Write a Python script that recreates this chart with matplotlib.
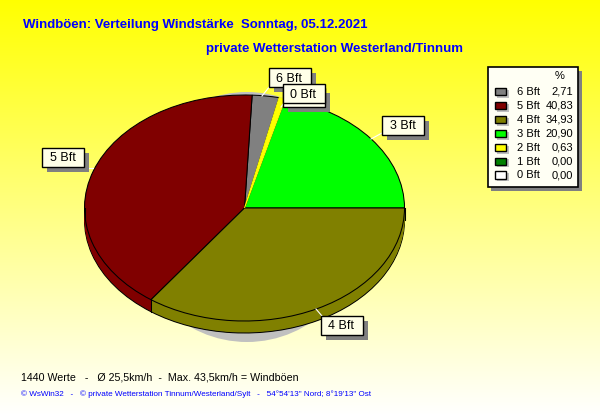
import numpy as np
import matplotlib
matplotlib.use('Agg')
import matplotlib.pyplot as plt
from matplotlib.patches import Rectangle, Ellipse
from matplotlib.transforms import Affine2D

plt.rcParams['font.family'] = ['Liberation Sans', 'DejaVu Sans']

# pie order, counter clockwise from 3 o'clock
pie_labels = ['3 Bft', '2 Bft', '6 Bft', '5 Bft', '4 Bft']
pie_values = [20.90, 0.63, 2.71, 40.83, 34.93]
pie_colors = ['#00ff00', '#ffff00', '#808080', '#800000', '#808000']

# legend
legend_labels = ['6 Bft', '5 Bft', '4 Bft', '3 Bft', '2 Bft', '1 Bft', '0 Bft']
legend_values = ['2,71', '40,83', '34,93', '20,90', '0,63', '0,00', '0,00']
legend_colors = ['#808080', '#800000', '#808000', '#00ff00', '#ffff00', '#008000', '#ffffff']

title = 'Windböen: Verteilung Windstärke  Sonntag, 05.12.2021'
subtitle = 'private Wetterstation Westerland/Tinnum'
stats = '1440 Werte   -   Ø 25,5km/h  -  Max. 43,5km/h = Windböen'
footer = ("© WsWin32   -   © private Wetterstation Tinnum/Westerland/Sylt   -   "
          "54°54'13\" Nord; 8°19'13\" Ost")

CX, CY, RX, RY, DEPTH = 244.5, 208, 160, 113, 12
CREAM = '#ffffe8'
SHADOW = '#808080'

fig = plt.figure(figsize=(6, 4.15), dpi=100)
ax = fig.add_axes([0, 0, 1, 1])


def draw_pie(dy, edge):
    # ellipse is a normal pie squashed with a transform
    wedges, _ = ax.pie(pie_values, colors=pie_colors, radius=RX, startangle=0,
                       counterclock=True, frame=True,
                       wedgeprops=dict(edgecolor=edge, linewidth=0.75 if edge != 'none' else 0))
    tr = Affine2D().scale(1, -RY / RX).translate(CX, CY + dy) + ax.transData
    for w in wedges:
        w.set_transform(tr)
        w.set_zorder(3)
    return wedges


# gradient background
grad = np.zeros((415, 1, 3))
grad[:, 0, 0] = 1
grad[:, 0, 1] = 1
grad[:, 0, 2] = np.linspace(0, 1, 415)
ax.imshow(grad, extent=(0, 600, 415, 0), aspect='auto', zorder=0)

# pie shadow
ax.add_patch(Ellipse((247, 217), 238, 250, fc='#c0c0c0', ec='none', zorder=1))

# rim, then top
draw_pie(DEPTH, 'black')
for d in range(DEPTH - 1, 0, -1):
    draw_pie(d, 'none')
top = draw_pie(0, 'black')
# the thin yellow slice would vanish under its black outline
top[1].set_edgecolor('#ffff00')
top[1].set_zorder(3.5)

ax.set_aspect('auto')
ax.set_xlim(0, 600)
ax.set_ylim(415, 0)
ax.axis('off')

# rim seams on the front side
edges = np.cumsum([0] + pie_values) / 100 * 2 * np.pi
for a in edges:
    if np.sin(a) <= 1e-6:
        x = CX + RX * np.cos(a)
        y = CY - RY * np.sin(a)
        ax.plot([x, x], [y, y + DEPTH], color='black', lw=0.75, zorder=4)
ax.plot([CX - RX, CX - RX], [CY, CY + DEPTH], color='black', lw=0.75, zorder=4)


def label_box(x0, y0, x1, y1, text=None, shadow=True):
    if shadow:
        ax.add_patch(Rectangle((x0 + 5, y0 + 5), x1 - x0, y1 - y0, fc=SHADOW, ec='none', zorder=6))
    ax.add_patch(Rectangle((x0, y0), x1 - x0, y1 - y0, fc=CREAM, ec='black', lw=1.0, zorder=7))
    if text:
        ax.text((x0 + x1) / 2, (y0 + y1) / 2 + 0.5, text, ha='center', va='center',
                fontsize=9, color='black', zorder=8)


# leader lines
leaders = [((262, 96), (270, 86)), ((281, 107), (284, 103)), ((371, 139), (382, 133)),
           ((84, 168), (93, 168)), ((316, 309), (322, 316))]
for p, q in leaders:
    ax.plot([p[0], q[0]], [p[1], q[1]], color='white', lw=0.8, zorder=5)

label_box(268.5, 68.5, 310.5, 87.5, '6 Bft')
# 2 Bft and 1 Bft boxes sit behind the 0 Bft one, their text is covered
label_box(282.5, 88.5, 324.5, 107.5)
label_box(282.5, 84.5, 324.5, 103.5, '0 Bft', shadow=False)
label_box(381.5, 115.5, 423.5, 134.5, '3 Bft')
label_box(41.5, 147.5, 83.5, 166.5, '5 Bft')
label_box(320.5, 315.5, 362.5, 334.5, '4 Bft')

# legend box
ax.add_patch(Rectangle((491, 71), 91, 120, fc=SHADOW, ec='none', zorder=6))
ax.add_patch(Rectangle((487.5, 67.5), 90, 120, fc='#fffff4', ec='black', lw=1.2, zorder=7))
ax.text(560, 76, '%', ha='center', va='center', fontsize=8, zorder=8)
for i, (lab, val, col) in enumerate(zip(legend_labels, legend_values, legend_colors)):
    y = 92 + i * 13.9
    ax.add_patch(Rectangle((497, y - 2), 12, 8, fc='#c0c0c0', ec='none', zorder=7.5))
    ax.add_patch(Rectangle((494.5, y - 4), 11, 7.5, fc=col, ec='black', lw=1.0, zorder=8))
    ax.text(517, y, lab, ha='left', va='center', fontsize=8, zorder=8)
    ax.text(573, y, val, ha='right', va='center', fontsize=8, zorder=8)

# texts
ax.text(23, 25, title, color='#0000ff', fontsize=9.5, fontweight='bold', va='center', zorder=8)
ax.text(206, 49, subtitle, color='#0000ff', fontsize=9.55, fontweight='bold', va='center', zorder=8)
ax.text(21, 377, stats, color='black', fontsize=7.65, va='center', zorder=8)
ax.text(21, 394, footer, color='#0000ff', fontsize=5.85, va='center', zorder=8)

fig.savefig('out.png', dpi=100)
plt.close(fig)
